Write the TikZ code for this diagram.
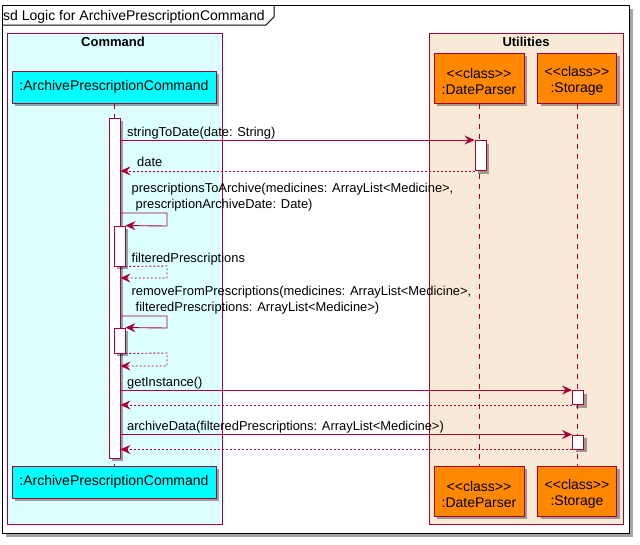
\documentclass[tikz,border=0pt]{standalone}
\usepackage{fontspec}
\setmainfont{Liberation Sans}
\usetikzlibrary{arrows.meta,shadows}
\definecolor{bd}{HTML}{A80036}
\definecolor{cmdbg}{HTML}{DDFFFF}
\definecolor{utilbg}{HTML}{F9E9D7}
\definecolor{cyanp}{HTML}{00FFFF}
\definecolor{orangep}{HTML}{FF8800}
\newcommand{\stereo}{{<}{<}class{>}{>}}
\tikzset{
  shad/.style={drop shadow={shadow xshift=3pt,shadow yshift=-3pt,opacity=0.35,fill=black}},
  part/.style={draw=bd,line width=1pt,shad,inner sep=0pt,align=center,font=\fontsize{14}{17}\selectfont},
  cmdpart/.style={part,fill=cyanp,minimum width=204pt,minimum height=32pt},
  clspart/.style={part,fill=orangep,minimum height=50pt},
  clstext/.style={label={[align=center,inner sep=0pt,font=\fontsize{14}{16}\selectfont,yshift=-3pt]center:{#1}}},
  actbar/.style={draw=bd,line width=0.9pt,fill=white,shad,minimum width=11pt,inner sep=0pt},
  life/.style={draw=bd,line width=0.9pt,dash pattern=on 5pt off 5pt},
  msg/.style={draw=bd,line width=0.9pt,-{Stealth[length=10pt,width=9pt,inset=3.5pt]}},
  ret/.style={msg,dash pattern=on 2pt off 2pt},
  lbl/.style={anchor=base west,inner sep=0pt,font=\fontsize{12.9}{15}\selectfont},
  grp/.style={draw=bd,line width=0.9pt},
  grplbl/.style={font=\fontsize{13}{15}\selectfont\bfseries,inner sep=0pt}
}
\begin{document}
\begin{tikzpicture}[x=1pt,y=-1pt]
\useasboundingbox (0,0) rectangle (640,544);
% outer frame
\draw[line width=1pt,fill=white,drop shadow={shadow xshift=4pt,shadow yshift=-4pt,opacity=0.35,fill=black}] (2,5) rectangle (629,533);
\draw[line width=1pt] (2,25) -- (266,25) -- (274,17) -- (274,5);
\node[anchor=base west,inner sep=0pt,font=\fontsize{14}{17}\selectfont] (title) at (3,20) {sd Logic for ArchivePrescriptionCommand};
% groups
\draw[grp,fill=cmdbg] (7,33) rectangle (222,524);
\node[grplbl] (cmdlbl) at (113,42) {Command};
\draw[grp,fill=utilbg] (429,33) rectangle (623,524);
\node[grplbl] (utillbl) at (526,42) {Utilities};
% participants
\node[cmdpart] (apcT) at (114,87) {:ArchivePrescriptionCommand};
\node[cmdpart] (apcB) at (114,482) {:ArchivePrescriptionCommand};
\node[clspart,minimum width=90pt,clstext={\stereo\\:DateParser}] (dpT) at (479,78) {};
\node[clspart,minimum width=90pt,clstext={\stereo\\:DateParser}] (dpB) at (479,491) {};
\node[clspart,minimum width=79pt,clstext={\stereo\\:Storage}] (stT) at (577,78) {};
\node[clspart,minimum width=79pt,clstext={\stereo\\:Storage}] (stB) at (577,491) {};
% lifelines
\draw[life] (dpT.south) -- (dpB.north);
\draw[life] (stT.south) -- (stB.north);
\draw[life] (apcT.south) -- (apcB.north);
% activations
\node[actbar,minimum height=340pt] (actA) at (114.5,288) {};
\node[actbar,minimum height=30pt] (actD) at (480.5,155.5) {};
\node[actbar,minimum height=40pt] (actN1) at (119.5,246) {};
\node[actbar,minimum height=25pt] (actN2) at (119.5,340.5) {};
\node[actbar,minimum height=14pt] (actS1) at (578,397.5) {};
\node[actbar,minimum height=14pt] (actS2) at (578,442) {};
% messages
\node[lbl] (m1) at (127,136) {stringToDate(date: String)};
\draw[msg] (actA.east |- actD.north) -- (actD.north west);
\node[lbl] (m2) at (137,166) {date};
\draw[ret] (actD.south west) -- (actA.east |- actD.south);
\node[lbl] (m3a) at (131.5,192) {prescriptionsToArchive(medicines: ArrayList<Medicine>,};
\node[lbl] (m3b) at (135.5,208.5) {prescriptionArchiveDate: Date)};
\coordinate (s1a) at (167,213);
\coordinate (s1b) at (167,226);
\draw[msg] (actA.east |- s1a) -- (s1a) -- (s1b) -- (actN1.north east);
\node[lbl] (m4) at (131.5,262) {filteredPrescriptions};
\coordinate (r1a) at (167,266);
\coordinate (r1b) at (167,278);
\draw[ret] (actN1.south east) -- (r1a) -- (r1b) -- (actA.east |- r1b);
\node[lbl] (m5a) at (131.5,295) {removeFromPrescriptions(medicines: ArrayList<Medicine>,};
\node[lbl] (m5b) at (135.5,311.5) {filteredPrescriptions: ArrayList<Medicine>)};
\coordinate (s2a) at (167,316);
\coordinate (s2b) at (167,328);
\draw[msg] (actA.east |- s2a) -- (s2a) -- (s2b) -- (actN2.north east);
\coordinate (r2a) at (167,353);
\coordinate (r2b) at (167,366);
\draw[ret] (actN2.south east) -- (r2a) -- (r2b) -- (actA.east |- r2b);
\node[lbl] (m6) at (127,386) {getInstance()};
\draw[msg] (actA.east |- actS1.north) -- (actS1.north west);
\draw[ret] (actS1.south west) -- (actA.east |- actS1.south);
\node[lbl] (m7) at (127,430) {archiveData(filteredPrescriptions: ArrayList<Medicine>)};
\draw[msg] (actA.east |- actS2.north) -- (actS2.north west);
\draw[ret] (actS2.south west) -- (actA.east |- actS2.south);
\end{tikzpicture}
\end{document}
